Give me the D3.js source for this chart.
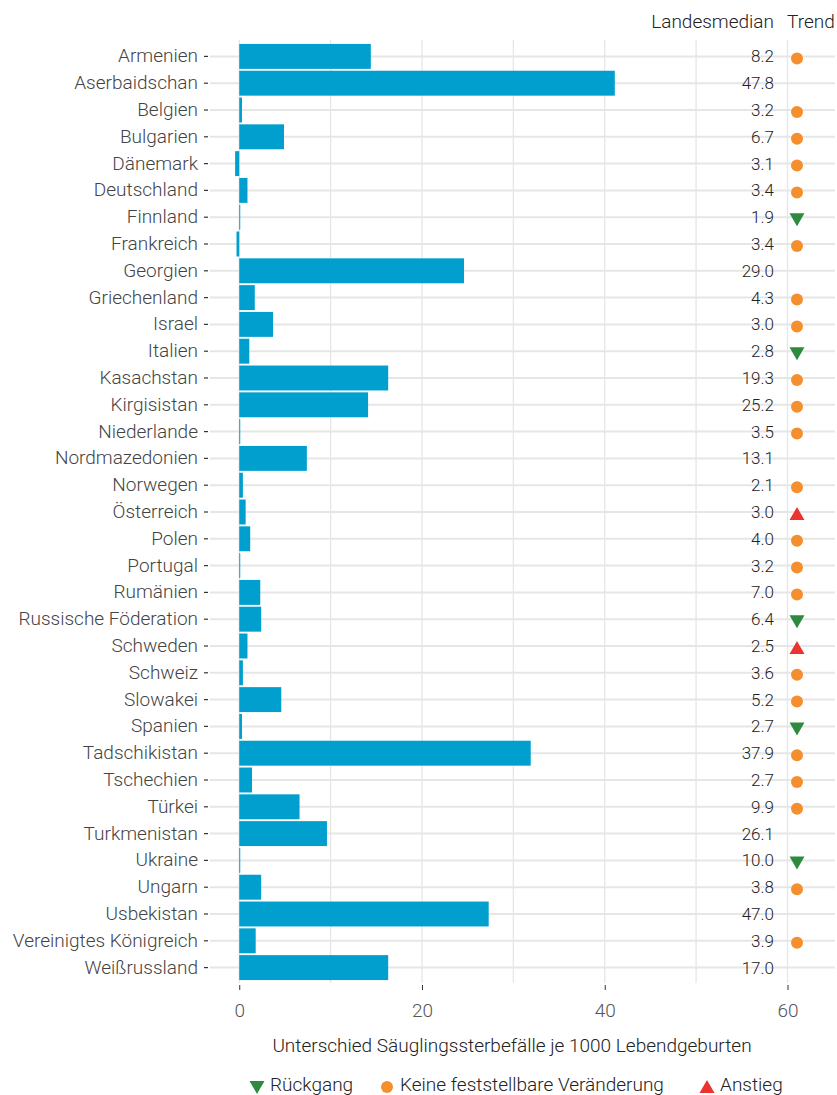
<!DOCTYPE html>
<html><head><meta charset="utf-8">
<script src="https://cdn.jsdelivr.net/npm/d3@7"></script>
<style>
body{margin:0;background:#fff;}
text{font-family:Roboto, "Noto Sans", sans-serif;}
</style></head>
<body><svg id="c" width="837" height="1095"></svg>
<script>
const countries = ["Armenien","Aserbaidschan","Belgien","Bulgarien","Dänemark","Deutschland","Finnland","Frankreich","Georgien","Griechenland","Israel","Italien","Kasachstan","Kirgisistan","Niederlande","Nordmazedonien","Norwegen","Österreich","Polen","Portugal","Rumänien","Russische Föderation","Schweden","Schweiz","Slowakei","Spanien","Tadschikistan","Tschechien","Türkei","Turkmenistan","Ukraine","Ungarn","Usbekistan","Vereinigtes Königreich","Weißrussland"];
const differences = [14.4,41.1,0.3,4.9,-0.45,0.9,0.1,-0.3,24.6,1.7,3.7,1.1,16.3,14.1,0.1,7.4,0.4,0.7,1.2,0.1,2.3,2.4,0.9,0.4,4.6,0.3,31.9,1.4,6.6,9.6,0.1,2.4,27.3,1.8,16.3];
const medians = ["8.2","47.8","3.2","6.7","3.1","3.4","1.9","3.4","29.0","4.3","3.0","2.8","19.3","25.2","3.5","13.1","2.1","3.0","4.0","3.2","7.0","6.4","2.5","3.6","5.2","2.7","37.9","2.7","9.9","26.1","10.0","3.8","47.0","3.9","17.0"];
const trends = ["flat","","flat","flat","flat","flat","down","flat","","flat","flat","down","flat","flat","flat","","flat","up","flat","flat","flat","down","up","flat","flat","down","flat","flat","flat","","down","flat","","flat",""];
const xTicks = [0,20,40,60];
const xGrid = [0,10,20,30,40,50,60];
const legendItems = [{key:"down",label:"Rückgang"},{key:"flat",label:"Keine feststellbare Veränderung"},{key:"up",label:"Anstieg"}];

const colors = {bar:"#009fcd", down:"#2e8b3e", flat:"#f58f2e", up:"#eb3331", grid:"#e6e6e6"};
const svg = d3.select("#c");
const x = d3.scaleLinear().domain([-3.2,65.2]).range([210,835]);
const y = d3.scaleBand().domain(countries).range([43,981]).paddingInner(0.07).paddingOuter(0.035);

// grid
svg.append("g").selectAll("line").data(xGrid).join("line")
  .attr("x1",d=>x(d)).attr("x2",d=>x(d)).attr("y1",40).attr("y2",983)
  .attr("stroke",colors.grid).attr("stroke-width",1.3);
svg.append("g").selectAll("line").data(countries).join("line")
  .attr("x1",210).attr("x2",835).attr("y1",d=>y(d)+y.bandwidth()/2).attr("y2",d=>y(d)+y.bandwidth()/2)
  .attr("stroke",colors.grid).attr("stroke-width",2);

// bars
svg.append("g").selectAll("rect").data(countries).join("rect")
  .attr("x",(d,i)=>x(Math.min(0,differences[i])))
  .attr("width",(d,i)=>Math.max(1,Math.abs(x(differences[i])-x(0))))
  .attr("y",d=>y(d)).attr("height",y.bandwidth())
  .attr("fill",colors.bar);

// y axis
const yAxis = d3.axisLeft(y).tickSize(4).tickPadding(6);
const ga = svg.append("g").attr("transform","translate(208,0)").call(yAxis);
ga.select(".domain").remove();
ga.selectAll(".tick line").attr("stroke","#333").attr("stroke-width",1.2);
ga.selectAll(".tick text").attr("font-size",19).attr("fill","#444").style("font-family","Roboto, sans-serif").style("font-weight",300);

// x axis
const xAxis = d3.axisBottom(x).tickValues(xTicks).tickSize(5).tickPadding(14);
const gx = svg.append("g").attr("transform","translate(0,985)").call(xAxis);
gx.select(".domain").remove();
gx.selectAll(".tick line").attr("stroke","#333");
gx.selectAll(".tick text").attr("font-size",19).attr("fill","#555").style("font-family","Roboto, sans-serif").style("font-weight",300);

svg.append("text").attr("x",512).attr("y",1052).attr("text-anchor","middle").style("font-weight",300)
  .attr("font-size",19).attr("fill","#222").text("Unterschied Säuglingssterbefälle je 1000 Lebendgeburten");

// medians
svg.append("text").attr("x",774).attr("y",28).attr("text-anchor","end").attr("font-size",19).style("font-weight",300).attr("fill","#222").text("Landesmedian");
svg.append("text").attr("x",787).attr("y",28).attr("text-anchor","start").attr("font-size",19).style("font-weight",300).attr("fill","#222").text("Trend");
svg.append("g").selectAll("text").data(countries).join("text")
  .attr("x",774).attr("y",d=>y(d)+y.bandwidth()/2).attr("dy","0.35em").attr("text-anchor","end")
  .attr("font-size",17).style("font-weight",300).attr("fill","#222").text((d,i)=>medians[i]);

function marker(g,type,cx,cy){
  if(type==="flat") g.append("circle").attr("cx",cx).attr("cy",cy).attr("r",6).attr("fill",colors.flat);
  else if(type==="down") g.append("path").attr("d",`M${cx-7.5},${cy-6}L${cx+7.5},${cy-6}L${cx},${cy+7}Z`).attr("fill",colors.down);
  else if(type==="up") g.append("path").attr("d",`M${cx-7.5},${cy+6}L${cx+7.5},${cy+6}L${cx},${cy-7}Z`).attr("fill",colors.up);
}
const gm = svg.append("g");
countries.forEach((c,i)=>{ if(trends[i]) marker(gm,trends[i],797,y(c)+y.bandwidth()/2+2); });

// legend
const lx = [257,387,707];
legendItems.forEach((it,i)=>{
  marker(svg,it.key,lx[i],1087);
  svg.append("text").attr("x",lx[i]+13).attr("y",1084).attr("dy","0.35em").attr("font-size",19).style("font-weight",300).attr("fill","#222").text(it.label);
});
</script></body></html>
